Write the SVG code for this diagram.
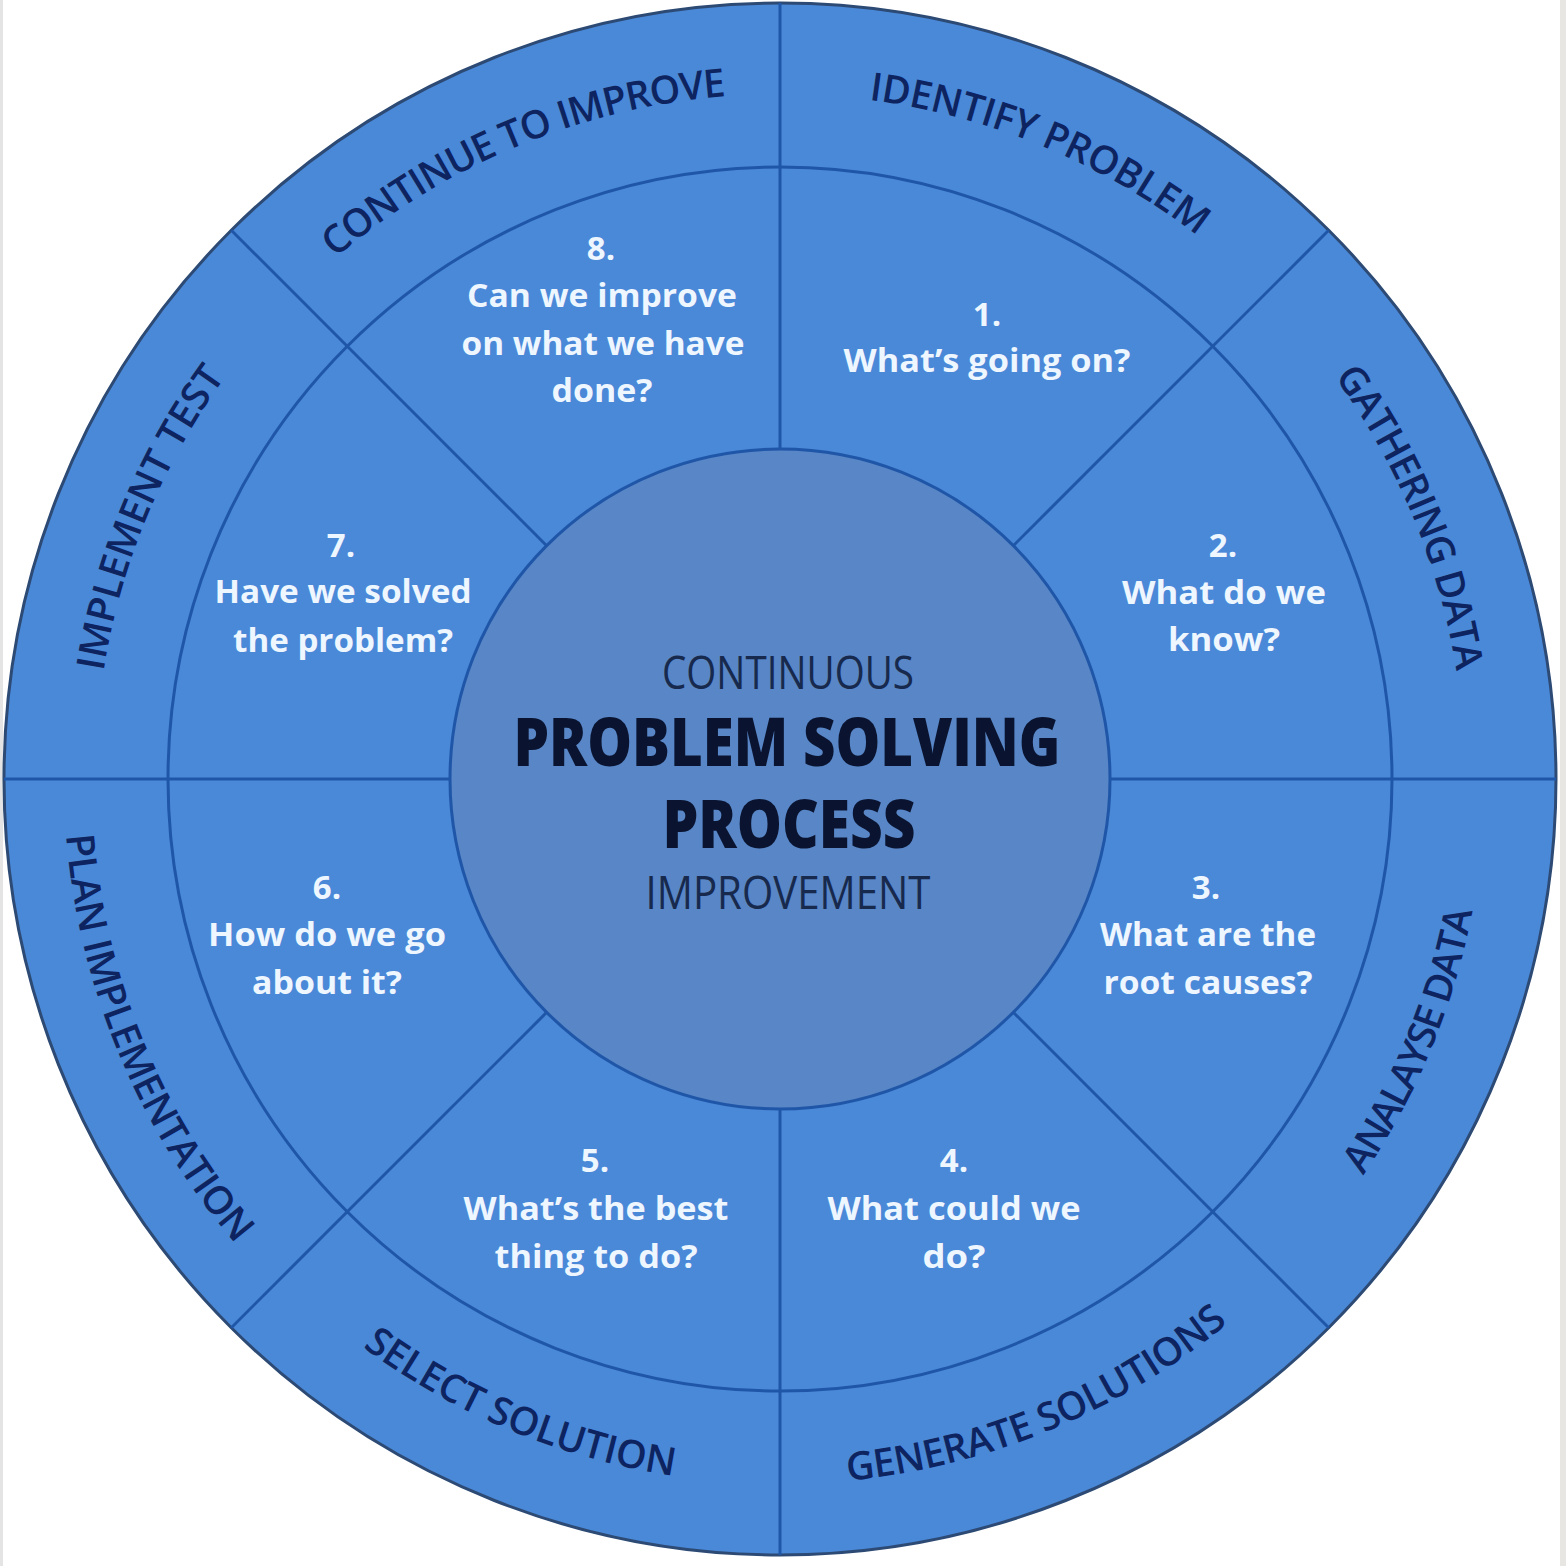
<svg xmlns="http://www.w3.org/2000/svg" width="1566" height="1566" viewBox="0 0 1566 1566">
  <style>
    .ring { fill: none; stroke: #1f56a8; stroke-width: 3; }
    .div { stroke: #1f56a8; stroke-width: 3; fill: none; }
    .lbl { font-family: "Open Sans", "Liberation Sans", sans-serif; font-size: 39px; font-weight: 600; fill: #0d2460; }
    .q { font-family: "Open Sans", "Liberation Sans", sans-serif; font-size: 33px; font-weight: 700; fill: #eef6ff; text-anchor: middle; }
    .c1 { font-family: "Open Sans", "Liberation Sans", sans-serif; font-size: 46px; font-weight: 400; fill: #17294d; text-anchor: middle; }
    .c2 { font-family: "Open Sans", "Liberation Sans", sans-serif; font-size: 68px; font-weight: 800; fill: #0a1430; text-anchor: middle; }
  </style>
  <defs>
    <path id="pIdentify" d="M 780 94 A 685 685 0 0 1 1264.4 294.6"/>
    <path id="pGather" d="M 1264.4 294.6 A 685 685 0 0 1 1465 779"/>
    <path id="pContinue" d="M 295.6 294.6 A 685 685 0 0 1 780 94"/>
    <path id="pImplement" d="M 95 779 A 685 685 0 0 1 295.6 294.6"/>
    <path id="pAnalyse" d="M 1278.5 1277.5 A 705 705 0 0 0 1485 779"/>
    <path id="pGenerate" d="M 780 1484 A 705 705 0 0 0 1278.5 1277.5"/>
    <path id="pSelect" d="M 281.5 1277.5 A 705 705 0 0 0 780 1484"/>
    <path id="pPlan" d="M 64 779 A 716 716 0 0 0 273.7 1285.3"/>
  </defs>

  <rect x="0" y="0" width="1566" height="1566" fill="#ffffff"/>
  <rect x="0" y="0" width="3" height="1566" fill="#e4e4e4"/>
  <rect x="1560" y="0" width="6" height="1566" fill="#e8e6e2"/>

  <g id="wheel">
    <circle cx="780" cy="779" r="776" fill="#4a88d8" stroke="#2c4a74" stroke-width="3"/>
    <circle class="ring" cx="780" cy="779" r="612"/>
    <circle cx="780" cy="779" r="330" fill="#5886c6" stroke="#1f56a8" stroke-width="3"/>
  </g>

  <g id="connectors">
    <line class="div" x1="780" y1="3" x2="780" y2="449"/>
    <line class="div" x1="780" y1="1109" x2="780" y2="1555"/>
    <line class="div" x1="4" y1="779" x2="450" y2="779"/>
    <line class="div" x1="1110" y1="779" x2="1556" y2="779"/>
    <line class="div" x1="1328.7" y1="230.3" x2="1013.3" y2="545.7"/>
    <line class="div" x1="231.3" y1="230.3" x2="546.7" y2="545.7"/>
    <line class="div" x1="1328.7" y1="1327.7" x2="1013.3" y2="1012.3"/>
    <line class="div" x1="231.3" y1="1327.7" x2="546.7" y2="1012.3"/>
  </g>

  <g id="step1">
    <text class="lbl"><textPath href="#pIdentify" startOffset="50%" text-anchor="middle" textLength="360" lengthAdjust="spacing">IDENTIFY PROBLEM</textPath></text>
    <text class="q" x="987" y="326">1.</text>
    <text class="q" x="987" y="372" textLength="287" lengthAdjust="spacingAndGlyphs">What’s going on?</text>
  </g>

  <g id="step2">
    <text class="lbl"><textPath href="#pGather" startOffset="50%" text-anchor="middle" textLength="322" lengthAdjust="spacing">GATHERING DATA</textPath></text>
    <text class="q" x="1223" y="557">2.</text>
    <text class="q" x="1224" y="604" textLength="204" lengthAdjust="spacingAndGlyphs">What do we</text>
    <text class="q" x="1224" y="651" textLength="112" lengthAdjust="spacingAndGlyphs">know?</text>
  </g>

  <g id="step3">
    <text class="lbl"><textPath href="#pAnalyse" startOffset="50%" text-anchor="middle" textLength="288" lengthAdjust="spacing">ANALAYSE DATA</textPath></text>
    <text class="q" x="1206" y="899">3.</text>
    <text class="q" x="1208" y="946" textLength="216" lengthAdjust="spacingAndGlyphs">What are the</text>
    <text class="q" x="1208" y="994" textLength="209" lengthAdjust="spacingAndGlyphs">root causes?</text>
  </g>

  <g id="step4">
    <text class="lbl"><textPath href="#pGenerate" startOffset="50%" text-anchor="middle" textLength="418" lengthAdjust="spacing">GENERATE SOLUTIONS</textPath></text>
    <text class="q" x="954" y="1172">4.</text>
    <text class="q" x="954" y="1220" textLength="253" lengthAdjust="spacingAndGlyphs">What could we</text>
    <text class="q" x="954" y="1268" textLength="63" lengthAdjust="spacingAndGlyphs">do?</text>
  </g>

  <g id="step5">
    <text class="lbl"><textPath href="#pSelect" startOffset="50%" text-anchor="middle" textLength="340" lengthAdjust="spacing">SELECT SOLUTION</textPath></text>
    <text class="q" x="595" y="1172">5.</text>
    <text class="q" x="596" y="1220" textLength="265" lengthAdjust="spacingAndGlyphs">What’s the best</text>
    <text class="q" x="596" y="1268" textLength="203" lengthAdjust="spacingAndGlyphs">thing to do?</text>
  </g>

  <g id="step6">
    <text class="lbl"><textPath href="#pPlan" startOffset="50%" text-anchor="middle" textLength="450" lengthAdjust="spacing">PLAN IMPLEMENTATION</textPath></text>
    <text class="q" x="327" y="899">6.</text>
    <text class="q" x="327" y="946" textLength="238" lengthAdjust="spacingAndGlyphs">How do we go</text>
    <text class="q" x="327" y="994" textLength="150" lengthAdjust="spacingAndGlyphs">about it?</text>
  </g>

  <g id="step7">
    <text class="lbl"><textPath href="#pImplement" startOffset="50%" text-anchor="middle" textLength="322" lengthAdjust="spacing">IMPLEMENT TEST</textPath></text>
    <text class="q" x="341" y="557">7.</text>
    <text class="q" x="343" y="603" textLength="257" lengthAdjust="spacingAndGlyphs">Have we solved</text>
    <text class="q" x="343" y="652" textLength="220" lengthAdjust="spacingAndGlyphs">the problem?</text>
  </g>

  <g id="step8">
    <text class="lbl"><textPath href="#pContinue" startOffset="50%" text-anchor="middle" textLength="430" lengthAdjust="spacing">CONTINUE TO IMPROVE</textPath></text>
    <text class="q" x="601" y="260">8.</text>
    <text class="q" x="602" y="307" textLength="270" lengthAdjust="spacingAndGlyphs">Can we improve</text>
    <text class="q" x="603" y="355" textLength="283" lengthAdjust="spacingAndGlyphs">on what we have</text>
    <text class="q" x="602" y="402" textLength="101" lengthAdjust="spacingAndGlyphs">done?</text>
  </g>

  <g id="center">
    <text class="c1" x="788" y="689" textLength="252" lengthAdjust="spacingAndGlyphs">CONTINUOUS</text>
    <text class="c2" x="787" y="766" textLength="547" lengthAdjust="spacingAndGlyphs">PROBLEM SOLVING</text>
    <text class="c2" x="789" y="848" textLength="253" lengthAdjust="spacingAndGlyphs">PROCESS</text>
    <text class="c1" x="788" y="909" textLength="285" lengthAdjust="spacingAndGlyphs">IMPROVEMENT</text>
  </g>
</svg>
